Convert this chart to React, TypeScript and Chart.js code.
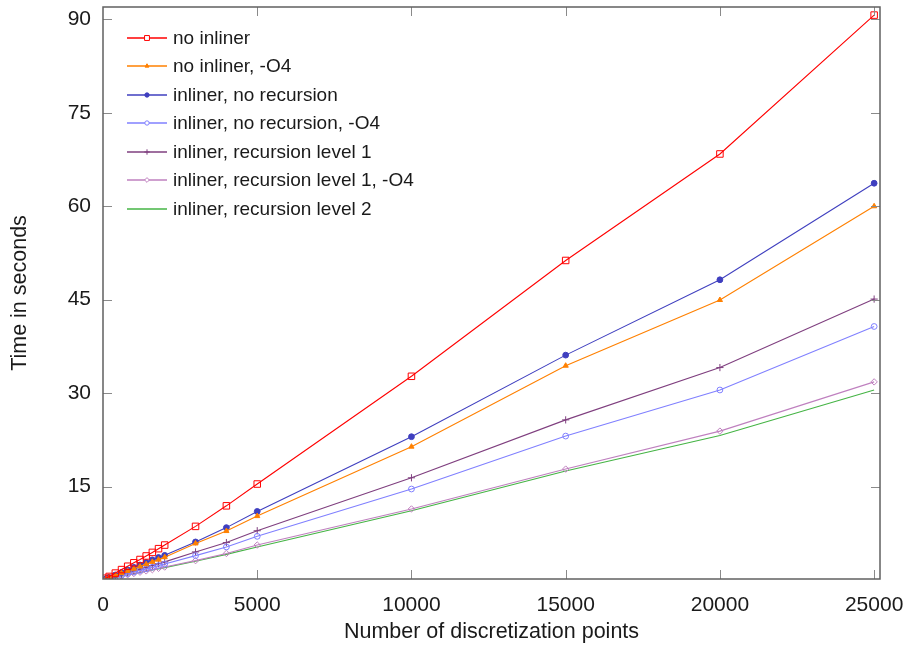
import { useEffect, useRef } from "react";
import { Chart, registerables } from "chart.js";
import { drawPoint } from "chart.js/helpers";

Chart.register(...registerables);

// Problem sizes (number of discretization points)
const points = [100, 200, 400, 600, 800, 1000, 1200, 1400, 1600, 1800, 2000, 3000, 4000, 5000, 10000, 15000, 20000, 25000];

// Run times in seconds
const noInliner = [0.28, 0.56, 1.1, 1.66, 2.2, 2.75, 3.28, 3.85, 4.42, 5.02, 5.6, 8.6, 11.9, 15.4, 32.7, 51.3, 68.4, 90.7];
const noInlinerO4 = [0.18, 0.36, 0.73, 1.1, 1.45, 1.8, 2.16, 2.52, 2.9, 3.26, 3.65, 5.86, 7.85, 10.25, 21.4, 34.4, 44.95, 60.0];
const inlinerNoRec = [0.2, 0.4, 0.8, 1.2, 1.6, 2.02, 2.4, 2.8, 3.22, 3.6, 3.95, 6.1, 8.4, 11.0, 23.0, 36.1, 48.2, 63.7];
const inlinerNoRecO4 = [0.13, 0.25, 0.5, 0.76, 1.01, 1.27, 1.52, 1.78, 2.04, 2.3, 2.55, 3.9, 5.3, 7.0, 14.6, 23.1, 30.5, 40.7];
const inlinerRec1 = [0.15, 0.29, 0.58, 0.87, 1.16, 1.45, 1.74, 2.03, 2.32, 2.61, 2.9, 4.5, 6.0, 7.9, 16.4, 25.7, 34.1, 45.1];
const inlinerRec1O4 = [0.1, 0.21, 0.42, 0.62, 0.83, 1.03, 1.24, 1.45, 1.65, 1.86, 2.07, 3.1, 4.25, 5.6, 11.4, 17.8, 23.9, 31.8];
const inlinerRec2 = [0.1, 0.2, 0.4, 0.6, 0.79, 0.99, 1.19, 1.39, 1.59, 1.78, 1.98, 3.0, 4.1, 5.3, 11.1, 17.5, 23.2, 30.5];

const seriesLabels = [
  "no inliner",
  "no inliner, -O4",
  "inliner, no recursion",
  "inliner, no recursion, -O4",
  "inliner, recursion level 1",
  "inliner, recursion level 1, -O4",
  "inliner, recursion level 2",
];

const xTicks = [0, 5000, 10000, 15000, 20000, 25000];
const yTicks = [15, 30, 45, 60, 75, 90];

const FONT = '"Liberation Sans", Arial, Helvetica, sans-serif';
const TEXT = "#1a1a1a";

const series = [
  { label: seriesLabels[0], values: noInliner, color: "#ff0000", style: "rect", radius: 4.6, filled: false },
  { label: seriesLabels[1], values: noInlinerO4, color: "#ff8000", style: "triangle", radius: 3, filled: true },
  { label: seriesLabels[2], values: inlinerNoRec, color: "#3f3fbf", style: "circle", radius: 2.9, filled: true },
  { label: seriesLabels[3], values: inlinerNoRecO4, color: "#8080ff", style: "circle", radius: 2.9, filled: false },
  { label: seriesLabels[4], values: inlinerRec1, color: "#7f3f7f", style: "cross", radius: 3.6, filled: false },
  { label: seriesLabels[5], values: inlinerRec1O4, color: "#bf80bf", style: "rectRot", radius: 3.2, filled: false },
  { label: seriesLabels[6], values: inlinerRec2, color: "#45b445", style: "line", radius: 0, filled: false },
];

// Legend drawn inside the plot frame, top-left
const insideLegend = {
  id: "insideLegend",
  afterDraw(chart: any) {
    const { ctx, chartArea } = chart;
    ctx.save();
    series.forEach((s, i) => {
      const y = Math.round(chartArea.top + 30.5 + i * 28.5);
      const x0 = chartArea.left + 24;
      const x1 = chartArea.left + 64;
      ctx.strokeStyle = s.color;
      ctx.lineWidth = 1.4;
      ctx.beginPath();
      ctx.moveTo(x0, y);
      ctx.lineTo(x1, y);
      ctx.stroke();
      if (s.radius > 0) {
        ctx.fillStyle = s.filled ? s.color : "#ffffff";
        ctx.strokeStyle = s.color;
        ctx.lineWidth = 1;
        drawPoint(ctx, { pointStyle: s.style, radius: s.radius * 0.75, rotation: 0, borderWidth: 1 }, (x0 + x1) / 2, y);
      }
      ctx.fillStyle = TEXT;
      ctx.font = `19px ${FONT}`;
      ctx.textBaseline = "middle";
      ctx.textAlign = "left";
      ctx.fillText(s.label, chartArea.left + 70, y + 1);
    });
    ctx.restore();
  },
};

// Box frame with inward tick marks on all four sides
const frame = {
  id: "frame",
  afterDraw(chart: any) {
    const { ctx, chartArea, scales } = chart;
    const { left, right, top, bottom } = chartArea;
    const len = 9;
    ctx.save();
    ctx.strokeStyle = "#8a8a8a";
    ctx.lineWidth = 1;
    ctx.beginPath();
    scales.x.ticks.forEach((t: any) => {
      const px = Math.round(scales.x.getPixelForValue(t.value)) + 0.5;
      if (px <= left + 1 || px >= right - 1) return;
      ctx.moveTo(px, bottom);
      ctx.lineTo(px, bottom - len);
      ctx.moveTo(px, top);
      ctx.lineTo(px, top + len);
    });
    scales.y.ticks.forEach((t: any) => {
      const py = Math.round(scales.y.getPixelForValue(t.value)) + 0.5;
      if (py <= top + 1 || py >= bottom - 1) return;
      ctx.moveTo(left, py);
      ctx.lineTo(left + len, py);
      ctx.moveTo(right, py);
      ctx.lineTo(right - len, py);
    });
    ctx.stroke();
    ctx.strokeStyle = "#606060";
    ctx.lineWidth = 1.5;
    ctx.strokeRect(left, top, right - left, bottom - top);
    ctx.restore();
  },
};

const noLabelOverflow = (scale: any) => {
  scale.paddingTop = 0;
  scale.paddingBottom = 0;
  scale.paddingLeft = 0;
  scale.paddingRight = 0;
};

export default function App() {
  const canvasRef = useRef<HTMLCanvasElement | null>(null);

  useEffect(() => {
    document.body.style.margin = "0";
    const canvas = canvasRef.current;
    if (!canvas) return;

    const datasets = series.map((s) => ({
      label: s.label,
      data: points.map((x, i) => ({ x, y: s.values[i] })),
      borderColor: s.color,
      backgroundColor: s.color,
      borderWidth: 1.1,
      pointStyle: s.style,
      pointRadius: s.radius,
      pointBorderWidth: 1,
      pointBorderColor: s.color,
      pointBackgroundColor: s.filled ? s.color : "rgba(255,255,255,0)",
      pointHoverRadius: s.radius,
      tension: 0,
      fill: false,
    }));

    const chart = new Chart(canvas, {
      type: "line",
      data: { datasets },
      plugins: [frame, insideLegend],
      options: {
        responsive: false,
        animation: false,
        devicePixelRatio: 1,
        layout: { padding: { top: 7, right: 26, left: 0, bottom: 0 } },
        plugins: {
          legend: { display: false },
          tooltip: { enabled: false },
        },
        scales: {
          x: {
            type: "linear",
            min: 0,
            max: 25190,
            afterBuildTicks: (scale: any) => {
              scale.ticks = xTicks.map((v) => ({ value: v }));
            },
            afterFit: (scale: any) => {
              scale.height = 69;
              noLabelOverflow(scale);
            },
            grid: { display: false },
            border: { display: false },
            ticks: {
              color: TEXT,
              font: { family: FONT, size: 21 },
              padding: 6,
              maxRotation: 0,
              autoSkip: false,
              callback: (v: any) => String(v),
            },
            title: {
              display: true,
              text: "Number of discretization points",
              color: TEXT,
              font: { family: FONT, size: 21.5 },
              padding: { top: 0, bottom: 3 },
            },
          },
          y: {
            type: "linear",
            min: 0.15,
            max: 92,
            afterBuildTicks: (scale: any) => {
              scale.ticks = yTicks.map((v) => ({ value: v }));
            },
            afterFit: (scale: any) => {
              scale.width = 103;
              noLabelOverflow(scale);
            },
            grid: { display: false },
            border: { display: false },
            ticks: {
              color: TEXT,
              font: { family: FONT, size: 21 },
              padding: 4,
              autoSkip: false,
              callback: (v: any) => String(v),
            },
            title: {
              display: true,
              text: "Time in seconds",
              color: TEXT,
              font: { family: FONT, size: 21.5 },
              padding: { top: 7, bottom: 0 },
            },
          },
        },
      },
    });

    return () => chart.destroy();
  }, []);

  return (
    <div style={{ width: 906, height: 648, background: "#fff" }}>
      <canvas ref={canvasRef} width={906} height={648} style={{ display: "block" }} />
    </div>
  );
}
